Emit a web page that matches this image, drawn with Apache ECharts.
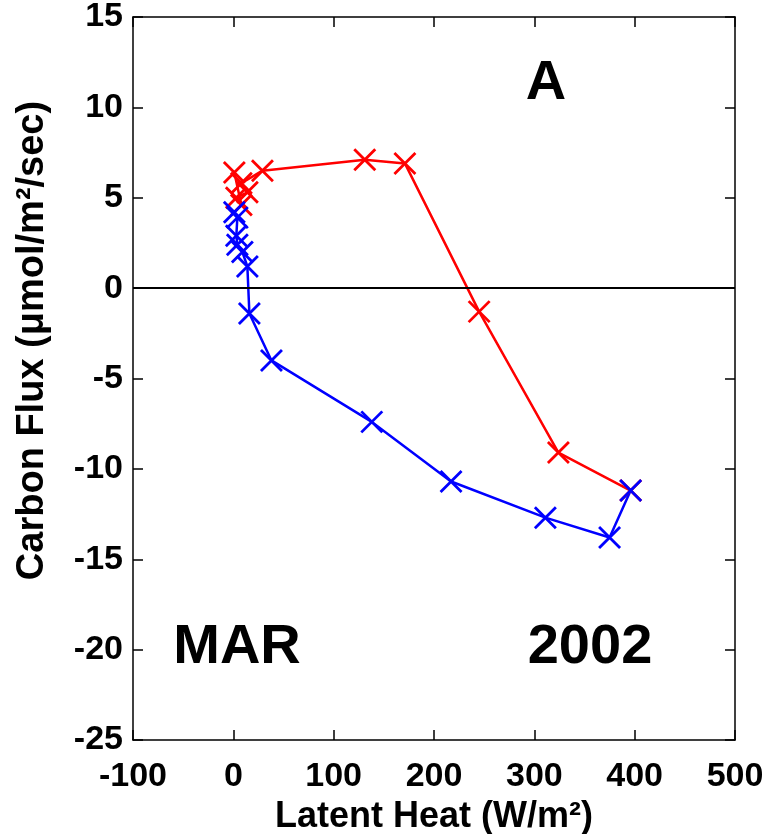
<!DOCTYPE html>
<html>
<head>
<meta charset="utf-8">
<script src="https://cdn.jsdelivr.net/npm/echarts@6/dist/echarts.min.js"></script>
<style>
html, body {margin: 0; padding: 0; background: #fff}
#flux {width: 770px; height: 834px}
</style>
</head>
<body>
<div id="flux"></div>
<script>
// latent heat vs carbon flux, MAR 2002
// red = afternoon, blue = morning

var red_le = [396, 324, 245, 171, 131, 29, 8, 14, 3, 8, 1]
var red_fc = [-11.2, -9.1, -1.3, 6.9, 7.1, 6.5, 5.8, 5.3, 5.0, 4.6, 6.4]

var blue_le = [1, 4, 3, 4, 9, 14, 16, 38, 138, 217, 311, 375, 396]
var blue_fc = [4.2, 3.9, 2.9, 2.4, 2.0, 1.2, -1.4, -4.0, -7.4, -10.7, -12.7, -13.8, -11.2]

var x_ticks = [-100, 0, 100, 200, 300, 400, 500]
var y_ticks = [-25, -20, -15, -10, -5, 0, 5, 10, 15]

function pair_up (xs, ys) {
  var out = []
  for (var i = 0; i < xs.length; i++) {
    out.push([xs[i], ys[i]])
  }
  return out
}

var font = '"Liberation Sans", Arial, sans-serif'
var cross = 'path://M0,0L10,10M10,0L0,10'

function value_axis (ticks, pos, main) {
  return {
    type: 'value',
    position: pos,
    min: ticks[0],
    max: ticks[ticks.length - 1],
    interval: ticks[1] - ticks[0],
    splitLine: {show: false},
    axisLine: {show: true, onZero: false, lineStyle: {color: '#000', width: 1.5}},
    axisTick: {show: true, inside: true, length: 10, lineStyle: {color: '#000', width: 1.5}},
    axisLabel: {show: main, color: '#000', fontFamily: font, fontWeight: 'bold', fontSize: 34}
  }
}

var xa = value_axis(x_ticks, 'bottom', true)
xa.axisLabel.margin = 20
xa.name = 'Latent Heat (W/m²)'
xa.nameLocation = 'middle'
xa.nameGap = 74
xa.nameTextStyle = {color: '#000', fontFamily: font, fontWeight: 'bold', fontSize: 36, verticalAlign: 'middle'}

var ya = value_axis(y_ticks, 'left', true)
ya.axisLabel.margin = 10
ya.name = 'Carbon Flux (μmol/m²/sec)'
ya.nameLocation = 'middle'
ya.nameGap = 100
// padding pushes the rotated title up a bit
ya.nameTextStyle = {color: '#000', fontFamily: font, fontWeight: 'bold', fontSize: 38, verticalAlign: 'middle', padding: [0, 0, 0, 76]}

var fluxchart = echarts.init(document.getElementById('flux'))

var option = {
  animation: false,
  backgroundColor: '#fff',
  grid: {left: 133, right: 35, top: 17, bottom: 94, containLabel: false, outerBoundsMode: 'none'},
  xAxis: [xa, value_axis(x_ticks, 'top', false)],
  yAxis: [ya, value_axis(y_ticks, 'right', false)],
  graphic: [
    {type: 'text', x: 546, y: 84, style: {text: 'A', font: 'bold 56px ' + font, fill: '#000', textAlign: 'center', textVerticalAlign: 'middle'}},
    {type: 'text', x: 237, y: 648, style: {text: 'MAR', font: 'bold 56px ' + font, fill: '#000', textAlign: 'center', textVerticalAlign: 'middle'}},
    {type: 'text', x: 590, y: 648, style: {text: '2002', font: 'bold 56px ' + font, fill: '#000', textAlign: 'center', textVerticalAlign: 'middle'}}
  ],
  series: [
    {
      name: 'afternoon',
      type: 'line',
      data: pair_up(red_le, red_fc),
      symbol: cross,
      symbolSize: 21,
      showSymbol: true,
      lineStyle: {color: '#ff0000', width: 2.5},
      itemStyle: {color: '#ff0000', borderColor: '#ff0000', borderWidth: 2.8},
      markLine: {
        silent: true,
        symbol: ['none', 'none'],
        label: {show: false},
        lineStyle: {color: '#000', width: 2, type: 'solid'},
        data: [{yAxis: 0}]
      }
    },
    {
      name: 'morning',
      type: 'line',
      data: pair_up(blue_le, blue_fc),
      symbol: cross,
      symbolSize: 21,
      showSymbol: true,
      lineStyle: {color: '#0000ff', width: 2.5},
      itemStyle: {color: '#0000ff', borderColor: '#0000ff', borderWidth: 2.8}
    }
  ]
}

fluxchart.setOption(option)
</script>
</body>
</html>
